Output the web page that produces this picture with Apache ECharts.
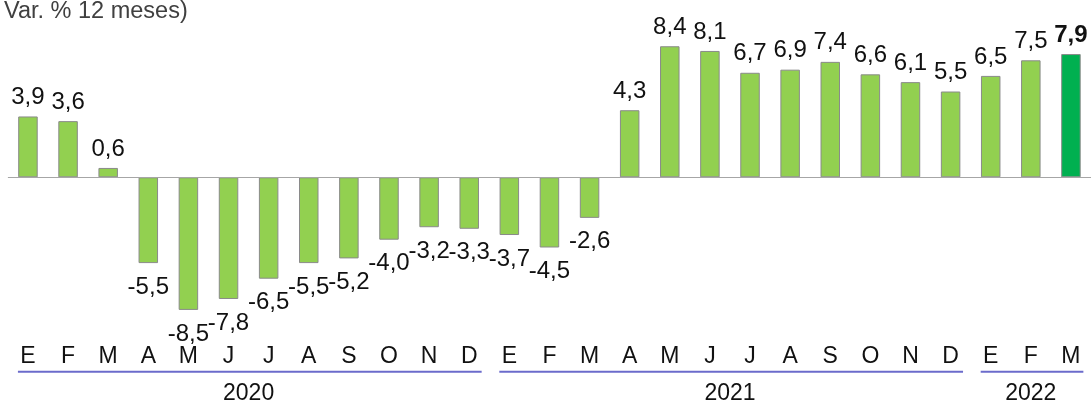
<!DOCTYPE html>
<html>
<head>
<meta charset="utf-8">
<script src="https://cdn.jsdelivr.net/npm/echarts@6/dist/echarts.min.js"></script>
<style>
  html, body { margin: 0; padding: 0; background: #fff; }
  #chart { width: 1091px; height: 401px; }
</style>
</head>
<body>
<div id="chart"></div>
<script>
const months = ['E', 'F', 'M', 'A', 'M', 'J', 'J', 'A', 'S', 'O', 'N', 'D',
  'E', 'F', 'M', 'A', 'M', 'J', 'J', 'A', 'S', 'O', 'N', 'D',
  'E', 'F', 'M']
const values = [3.9, 3.6, 0.6, -5.5, -8.5, -7.8, -6.5, -5.5, -5.2, -4.0, -3.2, -3.3,
  -3.7, -4.5, -2.6, 4.3, 8.4, 8.1, 6.7, 6.9, 7.4, 6.6, 6.1, 5.5,
  6.5, 7.5, 7.9]
const years = ['2020', '2021', '2022']
const yearFirst = [0, 12, 24]
const yearLast = [11, 23, 26]

const font = 'Liberation Sans, Arial, sans-serif'
const last = values.length - 1

const chart = echarts.init(document.getElementById('chart'))

const barData = values.map((v, i) => ({
  value: v,
  itemStyle: i === last ? { color: '#00b050' } : undefined,
  label: {
    position: v < 0 ? 'bottom' : 'top',
    distance: v < 0 ? 12 : 7,
    fontWeight: i === last ? 'bold' : 'normal'
  }
}))

chart.setOption({
  animation: false,
  title: {
    text: 'Var. % 12 meses)',
    left: 4,
    top: 0,
    padding: 0,
    textStyle: { fontFamily: font, fontSize: 23.5, fontWeight: 'normal', color: '#404040' }
  },
  grid: [
    { left: 7.9, width: 1084.6, top: 21.3, height: 312 },
    { left: 7.9, width: 1084.6, top: 371.7, height: 20 }
  ],
  xAxis: [
    {
      type: 'category',
      gridIndex: 0,
      data: months,
      axisLine: { show: false, onZero: false },
      axisTick: { show: false },
      axisLabel: { interval: 0, margin: 12, fontFamily: font, fontSize: 23, color: '#111' },
      splitLine: { show: false }
    },
    { type: 'value', gridIndex: 1, min: -0.5, max: 26.5, show: false }
  ],
  yAxis: [
    { type: 'value', gridIndex: 0, min: -10, max: 10, show: false },
    { type: 'value', gridIndex: 1, min: 0, max: 1, show: false }
  ],
  series: [
    {
      type: 'bar',
      xAxisIndex: 0,
      yAxisIndex: 0,
      data: barData,
      barWidth: 19.5,
      itemStyle: { color: '#92d050', borderColor: '#8a8a8a', borderWidth: 1 },
      label: {
        show: true,
        fontFamily: font,
        fontSize: 24,
        color: '#111',
        formatter: (p) => p.value.toFixed(1).replace('.', ',')
      },
      markLine: {
        silent: true,
        symbol: 'none',
        label: { show: false },
        lineStyle: { color: '#a6a6a6', width: 1.2, type: 'solid' },
        data: [{ yAxis: 0 }]
      }
    },
    {
      type: 'custom',
      xAxisIndex: 1,
      yAxisIndex: 1,
      data: years.map((y, i) => [yearFirst[i], yearLast[i]]),
      encode: { x: [0, 1], y: [] },
      renderItem: (params, api) => {
        const a = api.coord([api.value(0) - 0.25, 1])
        const b = api.coord([api.value(1) + 0.31, 1])
        const c = api.coord([(api.value(0) + api.value(1)) / 2, 1])
        return {
          type: 'group',
          children: [
            {
              type: 'line',
              shape: { x1: a[0], y1: a[1], x2: b[0], y2: b[1] },
              style: { stroke: '#6b6bcb', lineWidth: 2 }
            },
            {
              type: 'text',
              x: c[0],
              y: a[1] + 21.5,
              style: {
                text: years[params.dataIndex],
                fontFamily: font,
                fontSize: 23,
                fill: '#111',
                align: 'center',
                verticalAlign: 'middle'
              }
            }
          ]
        }
      }
    }
  ]
})

window.addEventListener('resize', () => chart.resize())
</script>
</body>
</html>
